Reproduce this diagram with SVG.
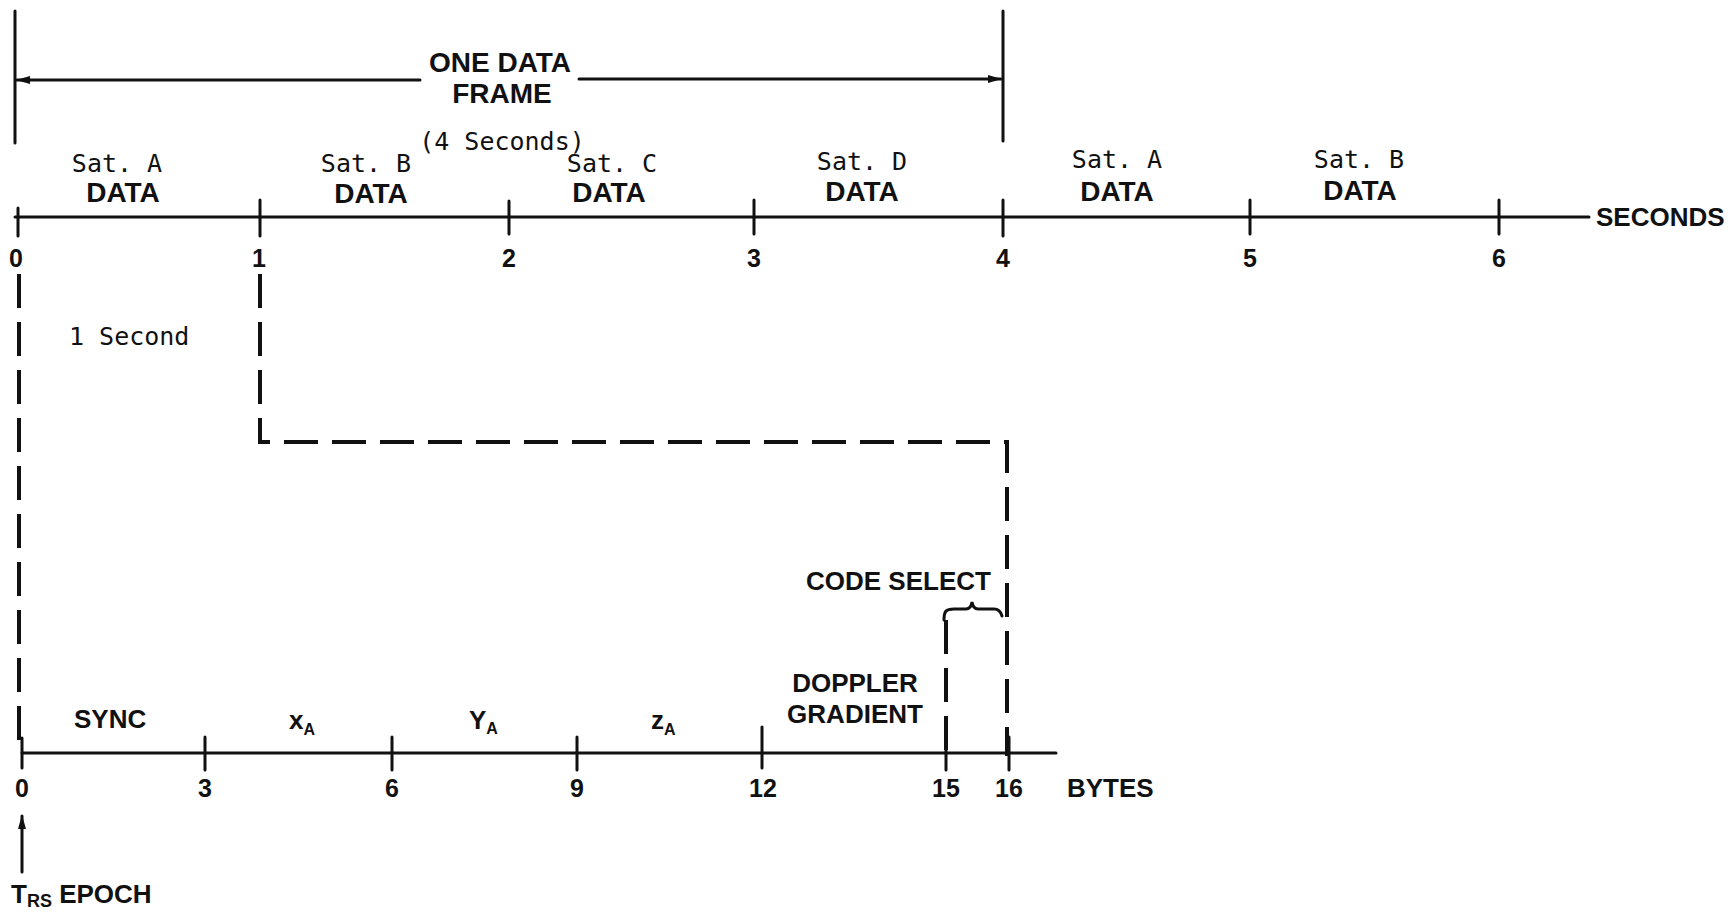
<svg xmlns="http://www.w3.org/2000/svg" width="1730" height="918" viewBox="0 0 1730 918">
<style>
.ln{stroke:#111;stroke-width:3;fill:none;stroke-linecap:round}
.dash{stroke:#111;stroke-width:4;fill:none;stroke-dasharray:34 14}
.b{font-family:"Liberation Sans",Arial,sans-serif;font-weight:bold;font-size:26px;fill:#111}
.bl{font-size:28px}
.n{font-family:"Liberation Sans",Arial,sans-serif;font-weight:bold;font-size:25px;fill:#111;text-anchor:middle}
.m{font-family:"DejaVu Sans Mono","Liberation Mono",monospace;font-size:25px;fill:#111}
.c{text-anchor:middle}
</style>
<defs>
<marker id="ah" viewBox="0 0 14 10" refX="13" refY="5" markerWidth="14" markerHeight="10" markerUnits="userSpaceOnUse" orient="auto">
<path d="M0,1 L14,5 L0,9 Z" fill="#111"/>
</marker>
</defs>

<g id="frame">
<line class="ln" x1="15" y1="11" x2="15" y2="143"/>
<line class="ln" x1="1003" y1="11" x2="1003" y2="141"/>
<line class="ln" x1="420" y1="80" x2="17" y2="80" marker-end="url(#ah)"/>
<line class="ln" x1="579" y1="79" x2="1001" y2="79" marker-end="url(#ah)"/>
<text class="b bl c" x="500" y="72">ONE DATA</text>
<text class="b bl c" x="502" y="103">FRAME</text>
<text class="m c" x="502" y="150">(4 Seconds)</text>
</g>

<g id="seconds-axis">
<line class="ln" x1="15" y1="217" x2="1589" y2="217"/>
<line class="ln" x1="18" y1="208" x2="18" y2="236"/>
<line class="ln" x1="260" y1="200" x2="260" y2="236"/>
<line class="ln" x1="509" y1="201" x2="509" y2="234"/>
<line class="ln" x1="754" y1="200" x2="754" y2="234"/>
<line class="ln" x1="1003" y1="200" x2="1003" y2="236"/>
<line class="ln" x1="1250" y1="200" x2="1250" y2="234"/>
<line class="ln" x1="1499" y1="200" x2="1499" y2="234"/>
<text class="n" x="16" y="267">0</text>
<text class="n" x="259" y="267">1</text>
<text class="n" x="509" y="267">2</text>
<text class="n" x="754" y="267">3</text>
<text class="n" x="1003" y="267">4</text>
<text class="n" x="1250" y="267">5</text>
<text class="n" x="1499" y="267">6</text>
<text class="b" x="1596" y="226">SECONDS</text>
</g>

<g id="sat-labels">
<text class="m c" x="117" y="172">Sat. A</text>
<text class="b bl c" x="123" y="202">DATA</text>
<text class="m c" x="366" y="172">Sat. B</text>
<text class="b bl c" x="371" y="203">DATA</text>
<text class="m c" x="612" y="172">Sat. C</text>
<text class="b bl c" x="609" y="202">DATA</text>
<text class="m c" x="862" y="170">Sat. D</text>
<text class="b bl c" x="862" y="201">DATA</text>
<text class="m c" x="1117" y="168">Sat. A</text>
<text class="b bl c" x="1117" y="201">DATA</text>
<text class="m c" x="1359" y="168">Sat. B</text>
<text class="b bl c" x="1360" y="200">DATA</text>
</g>

<g id="one-second">
<text class="m" x="69" y="345">1 Second</text>
</g>

<g id="connectors">
<line class="dash" x1="19" y1="274" x2="19" y2="752"/>
<path class="dash" d="M260 274 V442 H1007 V756"/>
<line class="dash" x1="946" y1="620" x2="946" y2="756"/>
<path class="ln" d="M944 620 C944 611 946 609 954 609 L966 609 Q971 609 972 602 Q973 609 978 609 L994 609 Q1000 609 1002 616"/>
<line class="ln" x1="22" y1="872" x2="22" y2="816" marker-end="url(#ah)"/>
</g>

<g id="bytes-axis">
<line class="ln" x1="22" y1="753" x2="1056" y2="753"/>
<line class="ln" x1="22" y1="738" x2="22" y2="768"/>
<line class="ln" x1="205" y1="737" x2="205" y2="770"/>
<line class="ln" x1="392" y1="737" x2="392" y2="770"/>
<line class="ln" x1="577" y1="737" x2="577" y2="770"/>
<line class="ln" x1="762" y1="727" x2="762" y2="768"/>
<line class="ln" x1="946" y1="737" x2="946" y2="770"/>
<line class="ln" x1="1009" y1="737" x2="1009" y2="770"/>
<text class="n" x="22" y="797">0</text>
<text class="n" x="205" y="797">3</text>
<text class="n" x="392" y="797">6</text>
<text class="n" x="577" y="797">9</text>
<text class="n" x="763" y="797">12</text>
<text class="n" x="946" y="797">15</text>
<text class="n" x="1009" y="797">16</text>
<text class="b" x="1067" y="797">BYTES</text>
</g>

<g id="byte-labels">
<text class="b" x="74" y="728">SYNC</text>
<text class="b" x="289" y="729" font-size="21">x<tspan font-size="16" dy="6">A</tspan></text>
<text class="b" x="469" y="729" font-size="22">Y<tspan font-size="16" dy="5">A</tspan></text>
<text class="b" x="651" y="729" font-size="19">z<tspan font-size="16" dy="6">A</tspan></text>
<text class="b c" x="855" y="692">DOPPLER</text>
<text class="b c" x="855" y="723">GRADIENT</text>
<text class="b" x="806" y="590" font-size="27">CODE SELECT</text>
</g>

<g id="epoch">
<text class="b" x="11" y="903" font-size="28">T<tspan font-size="18" dy="4">RS</tspan><tspan dy="-4"> EPOCH</tspan></text>
</g>
</svg>
